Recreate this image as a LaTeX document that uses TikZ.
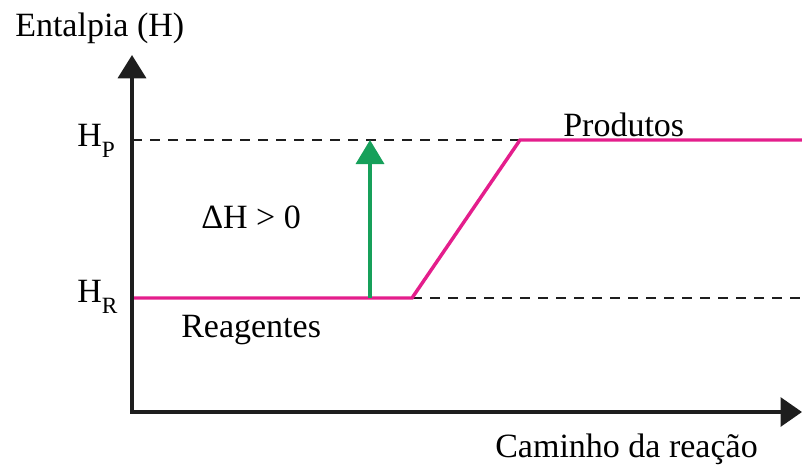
\documentclass[tikz,border=0pt]{standalone}
\usepackage{fontspec}
\setmainfont{Liberation Serif}
\newfontfamily\tnr{Liberation Serif}
\usetikzlibrary{arrows.meta}
\definecolor{mag}{RGB}{228,30,140}
\definecolor{grn}{RGB}{22,160,90}
\definecolor{axc}{RGB}{30,30,30}
\newcommand{\subP}[1]{\raisebox{-8.3pt}{\tnr\fontsize{17.5}{18}\selectfont #1}}
\begin{document}
\begin{tikzpicture}[x=0.75pt,y=-0.75pt,
  lbl/.style={inner sep=0pt,anchor=base west,font=\tnr\fontsize{25.5}{30}\selectfont},
  axis/.style={draw=axc,line width=2.8pt},
  level/.style={draw=mag,line width=2.6pt},
  dashline/.style={draw=axc,line width=2.1pt,dash pattern=on 7.5pt off 6pt},
  grarrow/.style={draw=grn,line width=2.6pt,-{Triangle[width=21pt,length=18pt]},fill=grn}]
\useasboundingbox (0,0) rectangle (802,467);
% coordinates
\coordinate (O) at (132,412);
\coordinate (ytop) at (132,55);
\coordinate (xend) at (802,412);
\coordinate (hp) at (132,140);
\coordinate (hr) at (132,298);
\coordinate (r1) at (412,298);
\coordinate (p1) at (520,140);
\coordinate (pend) at (802,140);
\coordinate (rend) at (802,298);
\coordinate (ga) at (370,298);
\coordinate (gb) at (370,140);
% dashed levels
\draw[dashline] (hp) -- (p1);
\draw[dashline] (r1) -- (rend);
% enthalpy path
\draw[level] (hr) -- (r1) -- (p1) -- (pend);
% green arrow
\draw[grarrow] (ga) -- (gb);
% axes
\draw[axis,-{Triangle[width=21pt,length=17.5pt]}] (O) -- (ytop);
\draw[axis,-{Triangle[width=21.5pt,length=16pt]}] ([xshift=-1.4pt]O) -- (xend);
% labels
\node[lbl] (ylab) at (15,37) {Entalpia (H)};
\node[lbl] (reag) at (181,337) {Reagentes};
\node[lbl] (prod) at (563,136) {Produtos};
\node[lbl] (xlab) at (495,457) {Caminho da reação};
\node[lbl] (hplab) at (77,146) {H\subP{P}};
\node[lbl] (hrlab) at (77,302) {H\subP{R}};
\node[lbl] (dh) at (201,228) {ΔH > 0};
\end{tikzpicture}
\end{document}
